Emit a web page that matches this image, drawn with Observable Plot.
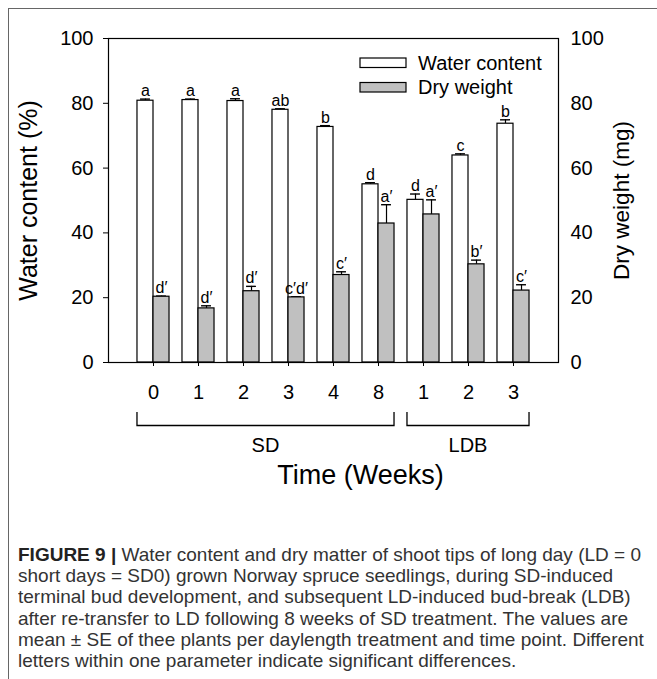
<!DOCTYPE html>
<html><head><meta charset="utf-8">
<script src="https://cdn.jsdelivr.net/npm/d3@7"></script>
<script src="https://cdn.jsdelivr.net/npm/@observablehq/plot@0.6"></script>
<style>
html,body{margin:0;padding:0;background:#fff;}
body{width:657px;height:679px;position:relative;overflow:hidden;font-family:"Liberation Sans",Arial,sans-serif;}
#border{position:absolute;left:8px;top:8px;width:700px;height:700px;border-left:1px solid #666;border-top:1px solid #666;}
#chart{position:absolute;left:0;top:0;}
#caption{position:absolute;left:18px;top:544px;font-family:"Liberation Sans",Arial,sans-serif;font-size:19px;line-height:21.2px;color:#333;white-space:nowrap;}
#caption div{transform-origin:0 50%;width:max-content;}
#caption b{color:#222;}
</style></head><body>
<div id="border"></div>
<div id="chart"></div>
<div id="caption"></div>
<script>
// ---- data ----
const weekLabels = ["0","1","2","3","4","8","1","2","3"];
const waterContent = [80.8, 81.0, 80.7, 78.0, 72.7, 55.0, 50.2, 63.9, 73.7];
const waterSE      = [0.5, 0.3, 0.7, 0.3, 0.4, 0.5, 1.8, 0.5, 1.2];
const dryWeight    = [20.3, 16.7, 22.0, 20.1, 27.0, 42.9, 45.7, 30.3, 22.2];
const drySE        = [0.2, 0.8, 1.5, 0.2, 1.0, 5.8, 4.5, 1.3, 1.8];
const waterLetters = ["a","a","a","ab","b","d","d","c","b"];
const dryLetters   = ["d\u2032","d\u2032","d\u2032","c\u2032d\u2032","c\u2032","a\u2032","a\u2032","b\u2032","c\u2032"];
const yTicks = [0, 20, 40, 60, 80, 100];
const groups = [{label:"SD", from:0, to:5}, {label:"LDB", from:6, to:8}];
const legendLabels = ["Water content", "Dry weight"];
const seriesFill = ["white", "#c0c0c0"];
const leftTitle = "Water content (%)";
const rightTitle = "Dry weight (mg)";
const xTitle = "Time (Weeks)";
const captionLines = [
  "<b>FIGURE 9 |</b> Water content and dry matter of shoot tips of long day (LD = 0",
  "short days = SD0) grown Norway spruce seedlings, during SD-induced",
  "terminal bud development, and subsequent LD-induced bud-break (LDB)",
  "after re-transfer to LD following 8 weeks of SD treatment. The values are",
  "mean \u00b1 SE of thee plants per daylength treatment and time point. Different",
  "letters within one parameter indicate significant differences."
];

// ---- build ----
const BW = 0.356;   // bar width in x units
const CAP = 0.11;   // half cap width in x units
const rows = weekLabels.map((w, i) => ({
  pos: i + 1, label: w,
  water: waterContent[i], waterTop: waterContent[i] + waterSE[i],
  dry: dryWeight[i], dryTop: dryWeight[i] + drySE[i],
  wl: waterLetters[i], dl: dryLetters[i]
}));
const FONT = '"Liberation Sans", Arial, sans-serif';

const plot = Plot.plot({
  width: 657, height: 500,
  marginLeft: 108, marginRight: 99, marginTop: 38, marginBottom: 138,
  style: {fontFamily: FONT, fontSize: "20px", color: "black", background: "transparent", overflow: "visible"},
  x: {domain: [0, 10]},
  y: {domain: [0, 100]},
  marks: [
    // error bars (upward)
    Plot.ruleX(rows, {x: d => d.pos - BW / 2, y1: "water", y2: "waterTop", stroke: "black", strokeWidth: 1.2}),
    Plot.ruleY(rows, {y: "waterTop", x1: d => d.pos - BW / 2 - CAP, x2: d => d.pos - BW / 2 + CAP, stroke: "black", strokeWidth: 1.4}),
    Plot.ruleX(rows, {x: d => d.pos + BW / 2, y1: "dry", y2: "dryTop", stroke: "black", strokeWidth: 1.2}),
    Plot.ruleY(rows, {y: "dryTop", x1: d => d.pos + BW / 2 - CAP, x2: d => d.pos + BW / 2 + CAP, stroke: "black", strokeWidth: 1.4}),
    // bars
    Plot.rect(rows, {x1: d => d.pos - BW, x2: d => d.pos, y1: 0, y2: "water", fill: seriesFill[0], stroke: "black", strokeWidth: 1.2}),
    Plot.rect(rows, {x1: d => d.pos, x2: d => d.pos + BW, y1: 0, y2: "dry", fill: seriesFill[1], stroke: "black", strokeWidth: 1.2}),
    // letters
    Plot.text(rows, {x: d => d.pos - BW / 2, y: "waterTop", text: "wl", dy: -3, lineAnchor: "bottom", fontSize: 16}),
    Plot.text(rows, {x: d => d.pos + BW / 2, y: "dryTop", text: "dl", dy: -3, lineAnchor: "bottom", fontSize: 16}),
    // axes
    Plot.axisX({ticks: rows.map(d => d.pos), tickFormat: d => weekLabels[d - 1], tickSize: 4, tickPadding: 18, fontSize: 20, label: null}),
    Plot.axisY({anchor: "left", ticks: yTicks, tickSize: 5, tickPadding: 10, fontSize: 20, label: null}),
    Plot.axisY({anchor: "right", ticks: yTicks, tickSize: 0, tickPadding: 12, fontSize: 20, label: null}),
    Plot.frame({stroke: "black", strokeWidth: 1.2}),
    // titles
    Plot.text([leftTitle], {frameAnchor: "left", text: d => d, rotate: -90, dx: -80, fontSize: 25, lineAnchor: "middle", textAnchor: "middle"}),
    Plot.text([rightTitle], {frameAnchor: "right", text: d => d, rotate: -90, dx: 63, fontSize: 22.5, lineAnchor: "middle", textAnchor: "middle"}),
    Plot.text([xTitle], {frameAnchor: "bottom", text: d => d, dx: 27, dy: 113, fontSize: 27, lineAnchor: "middle"})
  ]
});
document.getElementById("chart").appendChild(plot);

// ---- legend & group brackets (drawn with the plot's own x scale) ----
const svg = d3.select(plot);
const xs = plot.scale("x");
const px = v => xs.apply(v);
const yBase = 362;
const br = svg.append("g").attr("fill", "none").attr("stroke", "black").attr("stroke-width", 1.3);
groups.forEach(g => {
  const x1 = px(g.from + 1 - BW), x2 = px(g.to + 1 + BW);
  br.append("path").attr("d", `M${x1},${yBase + 50}V${yBase + 63.5}H${x2}V${yBase + 50}`);
  svg.append("text").attr("x", (x1 + x2) / 2).attr("y", yBase + 83).attr("dy", "0.35em")
    .attr("text-anchor", "middle").attr("font-size", 20).attr("font-family", FONT).attr("fill", "black").text(g.label);
});
const lg = svg.append("g").attr("font-family", FONT).attr("font-size", 20).attr("text-anchor", "start");
legendLabels.forEach((t, i) => {
  const yy = 58 + i * 24.5;
  lg.append("rect").attr("x", 360).attr("y", yy).attr("width", 46).attr("height", 9.5)
    .attr("fill", seriesFill[i]).attr("stroke", "black").attr("stroke-width", 1.2);
  lg.append("text").attr("x", 418).attr("y", yy + 4.8).attr("dy", "0.35em").attr("fill", "black").attr("text-anchor", "start").text(t);
});

const cap = document.getElementById("caption");
cap.innerHTML = captionLines.map(l => `<div>${l}</div>`).join("");
const lines = [...cap.children];
const k = 623 / lines[0].getBoundingClientRect().width;
lines.forEach(el => { el.style.transform = `scaleX(${k})`; });
</script>
</body></html>
